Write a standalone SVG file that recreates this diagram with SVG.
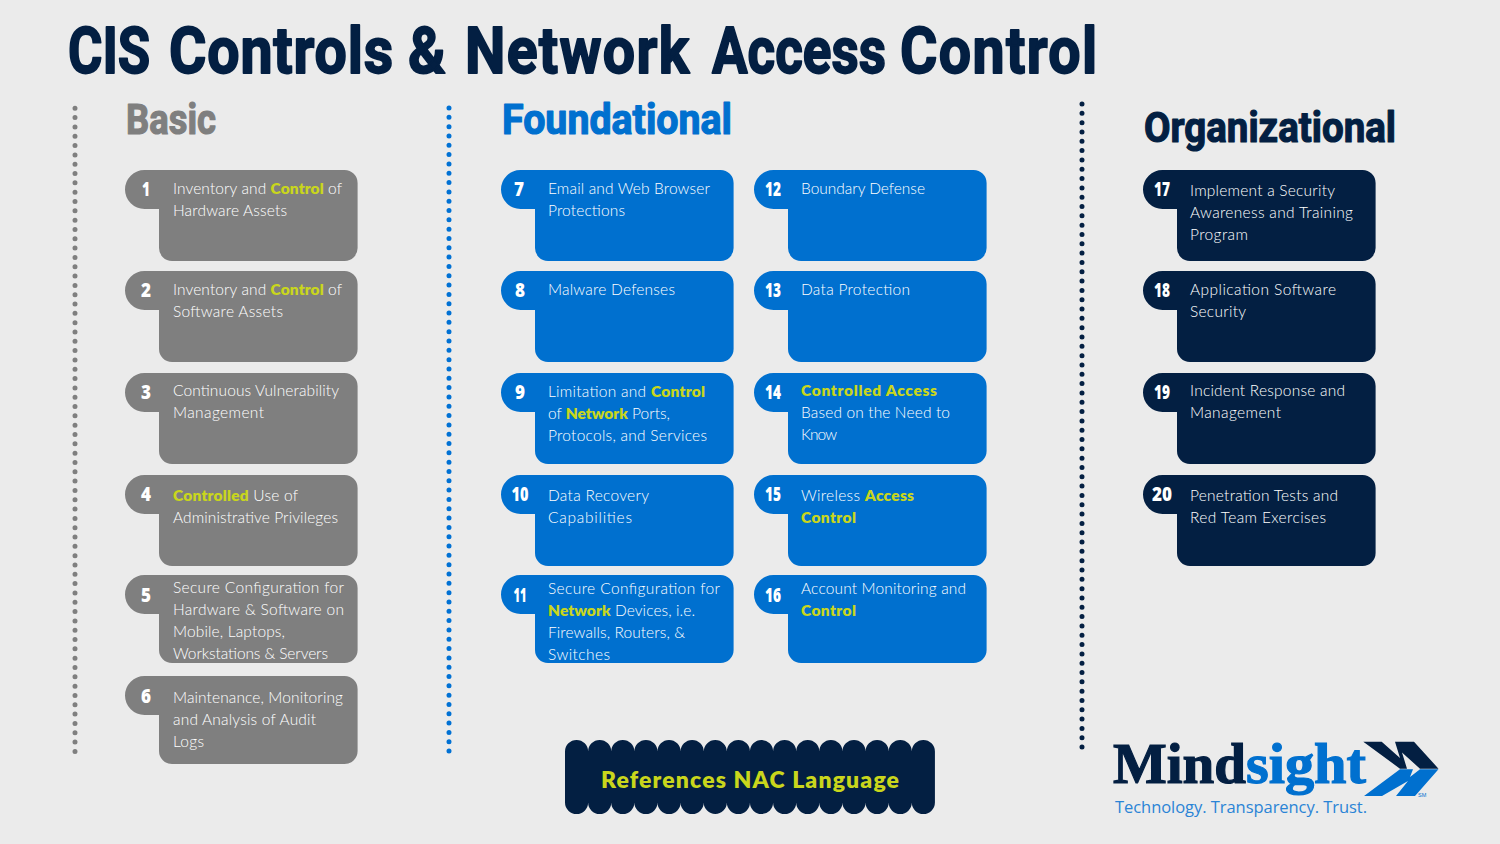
<svg xmlns="http://www.w3.org/2000/svg" width="1500" height="844" viewBox="0 0 1500 844">
<style>
.t{font-family:"Lato","Liberation Sans",sans-serif;font-size:15.5px;font-weight:300;fill:#fff}
.b{font-weight:800;fill:#c9d61c}
.n{font-family:"Open Sans","Liberation Sans",sans-serif;font-size:19px;font-weight:800;fill:#fff;text-anchor:middle}
.h{font-family:"Roboto","Liberation Sans",sans-serif;font-weight:700;stroke-width:1.200;stroke-linejoin:round}
.ti{font-size:65px;fill:#031f42;stroke:#031f42;stroke-width:1.800}
.g{fill:#7f7f7f}.c{fill:#0070cf}.d{fill:#031f42}
.dot{fill:none;stroke-width:5;stroke-linecap:round;stroke-dasharray:0 9.32}
</style>
<defs>
<path id="card" d="M37 0H219.600A13 13 0 0 1 232.600 13V78A13 13 0 0 1 219.600 91H47A13 13 0 0 1 34 78V39H19.500A19.500 19.500 0 0 1 19.500 0Z"/>
<path id="cardS" d="M37 0H219.600A13 13 0 0 1 232.600 13V75A13 13 0 0 1 219.600 88H47A13 13 0 0 1 34 75V39H19.500A19.500 19.500 0 0 1 19.500 0Z"/>
</defs>
<rect width="1500" height="844" fill="#ebebeb"/>
<g id="title">
<text class="h ti" x="84" y="73" transform="scale(.81 1)">CIS</text>
<text class="h ti" y="73" transform="scale(.88 1)"><tspan x="192" letter-spacing="1">Controls</tspan> <tspan x="463.600">&amp;</tspan> <tspan x="528.400" letter-spacing="1.500">Network</tspan></text>
<text class="h ti" x="872.500" y="73" transform="scale(.816 1)">Access</text>
<text class="h ti" x="1022.700" y="73" transform="scale(.88 1)" letter-spacing="1.600">Control</text>
</g>
<text class="h" x="126" y="134" font-size="42" fill="#7f7f7f" stroke="#7f7f7f" textLength="90" lengthAdjust="spacingAndGlyphs">Basic</text>
<text class="h" x="502" y="134" font-size="42" fill="#0070cf" stroke="#0070cf" textLength="230" lengthAdjust="spacingAndGlyphs">Foundational</text>
<text class="h" x="1144" y="142" font-size="42" fill="#031f42" stroke="#031f42" textLength="252" lengthAdjust="spacingAndGlyphs">Organizational</text>
<g id="dividers">
<path class="dot" stroke="#7f7f7f" d="M75 108.300V752"/>
<path class="dot" stroke="#0071d4" d="M449 108V752"/>
<path class="dot" stroke="#031f42" d="M1082 104V748"/>
</g>
<g id="node-1"><use href="#card" class="g" x="125" y="170"/><text class="n" x="146" y="196" textLength="8" lengthAdjust="spacingAndGlyphs">1</text><text class="t"><tspan x="173" y="194" textLength="169">Inventory and <tspan class="b">Control</tspan> of</tspan><tspan x="173" y="216" textLength="114">Hardware Assets</tspan></text></g>
<g id="node-2"><use href="#card" class="g" x="125" y="271"/><text class="n" x="146" y="297" textLength="10" lengthAdjust="spacingAndGlyphs">2</text><text class="t"><tspan x="173" y="295" textLength="169">Inventory and <tspan class="b">Control</tspan> of</tspan><tspan x="173" y="317" textLength="110">Software Assets</tspan></text></g>
<g id="node-3"><use href="#card" class="g" x="125" y="373"/><text class="n" x="146" y="399" textLength="10" lengthAdjust="spacingAndGlyphs">3</text><text class="t"><tspan x="173" y="396" textLength="166">Continuous Vulnerability</tspan><tspan x="173" y="418" textLength="91">Management</tspan></text></g>
<g id="node-4"><use href="#card" class="g" x="125" y="475"/><text class="n" x="146" y="501" textLength="10" lengthAdjust="spacingAndGlyphs">4</text><text class="t"><tspan x="173" y="501" textLength="125"><tspan class="b">Controlled</tspan> Use of</tspan><tspan x="173" y="523" textLength="165">Administrative Privileges</tspan></text></g>
<g id="node-5"><use href="#cardS" class="g" x="125" y="575"/><text class="n" x="146" y="602" textLength="10" lengthAdjust="spacingAndGlyphs">5</text><text class="t"><tspan x="173" y="593" textLength="171">Secure Configuration for</tspan><tspan x="173" y="615" textLength="171">Hardware &amp; Software on</tspan><tspan x="173" y="637" textLength="112">Mobile, Laptops,</tspan><tspan x="173" y="659" textLength="155">Workstations &amp; Servers</tspan></text></g>
<g id="node-6"><use href="#cardS" class="g" x="125" y="676"/><text class="n" x="146" y="703" textLength="10" lengthAdjust="spacingAndGlyphs">6</text><text class="t"><tspan x="173" y="703" textLength="170">Maintenance, Monitoring</tspan><tspan x="173" y="725" textLength="143">and Analysis of Audit</tspan><tspan x="173" y="747" textLength="31">Logs</tspan></text></g>
<g id="node-7"><use href="#card" class="c" x="501" y="170"/><text class="n" x="519" y="196" textLength="10" lengthAdjust="spacingAndGlyphs">7</text><text class="t"><tspan x="548" y="194" textLength="162">Email and Web Browser</tspan><tspan x="548" y="216" textLength="77">Protections</tspan></text></g>
<g id="node-8"><use href="#card" class="c" x="501" y="271"/><text class="n" x="520" y="297" textLength="10" lengthAdjust="spacingAndGlyphs">8</text><text class="t"><tspan x="548" y="295" textLength="127">Malware Defenses</tspan></text></g>
<g id="node-9"><use href="#card" class="c" x="501" y="373"/><text class="n" x="520" y="399" textLength="10" lengthAdjust="spacingAndGlyphs">9</text><text class="t"><tspan x="548" y="397" textLength="157">Limitation and <tspan class="b">Control</tspan></tspan><tspan x="548" y="419" textLength="122">of <tspan class="b">Network</tspan> Ports,</tspan><tspan x="548" y="441" textLength="159">Protocols, and Services</tspan></text></g>
<g id="node-10"><use href="#card" class="c" x="501" y="475"/><text class="n" x="520" y="501" textLength="17" lengthAdjust="spacingAndGlyphs">10</text><text class="t"><tspan x="548" y="501" textLength="101">Data Recovery</tspan><tspan x="548" y="523" textLength="84">Capabilities</tspan></text></g>
<g id="node-11"><use href="#cardS" class="c" x="501" y="575"/><text class="n" x="520" y="602" textLength="13" lengthAdjust="spacingAndGlyphs">11</text><text class="t"><tspan x="548" y="594" textLength="172">Secure Configuration for</tspan><tspan x="548" y="616" textLength="147"><tspan class="b">Network</tspan> Devices, i.e.</tspan><tspan x="548" y="638" textLength="137">Firewalls, Routers, &amp;</tspan><tspan x="548" y="660" textLength="62">Switches</tspan></text></g>
<g id="node-12"><use href="#card" class="c" x="754" y="170"/><text class="n" x="773" y="196" textLength="16" lengthAdjust="spacingAndGlyphs">12</text><text class="t"><tspan x="801" y="194" textLength="124">Boundary Defense</tspan></text></g>
<g id="node-13"><use href="#card" class="c" x="754" y="271"/><text class="n" x="773" y="297" textLength="16" lengthAdjust="spacingAndGlyphs">13</text><text class="t"><tspan x="801" y="295" textLength="109">Data Protection</tspan></text></g>
<g id="node-14"><use href="#card" class="c" x="754" y="373"/><text class="n" x="773" y="399" textLength="16" lengthAdjust="spacingAndGlyphs">14</text><text class="t"><tspan x="801" y="396" class="b" textLength="136">Controlled Access</tspan><tspan x="801" y="418" textLength="149">Based on the Need to</tspan><tspan x="801" y="440" textLength="36">Know</tspan></text></g>
<g id="node-15"><use href="#card" class="c" x="754" y="475"/><text class="n" x="773" y="501" textLength="16" lengthAdjust="spacingAndGlyphs">15</text><text class="t"><tspan x="801" y="501" textLength="113">Wireless <tspan class="b">Access</tspan></tspan><tspan x="801" y="523" class="b" textLength="55">Control</tspan></text></g>
<g id="node-16"><use href="#cardS" class="c" x="754" y="575"/><text class="n" x="773" y="602" textLength="16" lengthAdjust="spacingAndGlyphs">16</text><text class="t"><tspan x="801" y="594" textLength="165">Account Monitoring and</tspan><tspan x="801" y="616" class="b" textLength="55">Control</tspan></text></g>
<g id="node-17"><use href="#card" class="d" x="1143" y="170"/><text class="n" x="1162" y="196" textLength="16" lengthAdjust="spacingAndGlyphs">17</text><text class="t"><tspan x="1190" y="196" textLength="145">Implement a Security</tspan><tspan x="1190" y="218" textLength="163">Awareness and Training</tspan><tspan x="1190" y="240" textLength="58">Program</tspan></text></g>
<g id="node-18"><use href="#card" class="d" x="1143" y="271"/><text class="n" x="1162" y="297" textLength="16" lengthAdjust="spacingAndGlyphs">18</text><text class="t"><tspan x="1190" y="295" textLength="146">Application Software</tspan><tspan x="1190" y="317" textLength="56">Security</tspan></text></g>
<g id="node-19"><use href="#card" class="d" x="1143" y="373"/><text class="n" x="1162" y="399" textLength="16" lengthAdjust="spacingAndGlyphs">19</text><text class="t"><tspan x="1190" y="396" textLength="155">Incident Response and</tspan><tspan x="1190" y="418" textLength="91">Management</tspan></text></g>
<g id="node-20"><use href="#card" class="d" x="1143" y="475"/><text class="n" x="1162" y="501" textLength="20" lengthAdjust="spacingAndGlyphs">20</text><text class="t"><tspan x="1190" y="501" textLength="148">Penetration Tests and</tspan><tspan x="1190" y="523" textLength="136">Red Team Exercises</tspan></text></g>
<g id="legend">
<path class="d" d="M565 751.500a11.560 11.500 0 0 1 23.120 0a11.560 11.500 0 0 1 23.120 0a11.560 11.500 0 0 1 23.120 0a11.560 11.500 0 0 1 23.120 0a11.560 11.500 0 0 1 23.120 0a11.560 11.500 0 0 1 23.120 0a11.560 11.500 0 0 1 23.120 0a11.560 11.500 0 0 1 23.120 0a11.560 11.500 0 0 1 23.120 0a11.560 11.500 0 0 1 23.120 0a11.560 11.500 0 0 1 23.120 0a11.560 11.500 0 0 1 23.120 0a11.560 11.500 0 0 1 23.120 0a11.560 11.500 0 0 1 23.120 0a11.560 11.500 0 0 1 23.120 0a11.560 11.500 0 0 1 23.120 0V802.500a11.560 11.500 0 0 1 -23.120 0a11.560 11.500 0 0 1 -23.120 0a11.560 11.500 0 0 1 -23.120 0a11.560 11.500 0 0 1 -23.120 0a11.560 11.500 0 0 1 -23.120 0a11.560 11.500 0 0 1 -23.120 0a11.560 11.500 0 0 1 -23.120 0a11.560 11.500 0 0 1 -23.120 0a11.560 11.500 0 0 1 -23.120 0a11.560 11.500 0 0 1 -23.120 0a11.560 11.500 0 0 1 -23.120 0a11.560 11.500 0 0 1 -23.120 0a11.560 11.500 0 0 1 -23.120 0a11.560 11.500 0 0 1 -23.120 0a11.560 11.500 0 0 1 -23.120 0a11.560 11.500 0 0 1 -23.120 0Z"/>
<text x="601" y="787.500" font-family="Lato,'Liberation Sans',sans-serif" font-weight="800" font-size="23" fill="#c9d61c" textLength="298" lengthAdjust="spacing">References NAC Language</text>
</g>
<g id="logo">
<text x="1113" y="783" font-family="'Liberation Serif',serif" font-weight="700" font-size="56" textLength="133" lengthAdjust="spacingAndGlyphs" fill="#031f42" stroke="#031f42" stroke-width="1.200">Mind</text>
<text x="1246" y="783" font-family="'Liberation Serif',serif" font-weight="700" font-size="56" textLength="120" lengthAdjust="spacingAndGlyphs" fill="#0070cf" stroke="#0070cf" stroke-width="1.200">sight</text>
<path fill="#031f42" d="M1363.300 741.700H1381.700L1400 758L1395 741.700H1414L1438.500 768.700H1420L1402 752.500L1407 768.700H1400Z"/>
<path fill="#0070cf" d="M1400 769.300H1413L1410 777L1420 769.300H1438.500L1415 796H1396L1408 781L1382 796H1364Z"/>
<text x="1115" y="813" font-family="'Open Sans','Liberation Sans',sans-serif" font-size="16.500" fill="#2a84d6" textLength="252" lengthAdjust="spacing">Technology. Transparency. Trust.</text>
<text x="1418" y="797" font-family="'Liberation Sans',sans-serif" font-size="5.500" fill="#0070cf">SM</text>
</g>
</svg>
